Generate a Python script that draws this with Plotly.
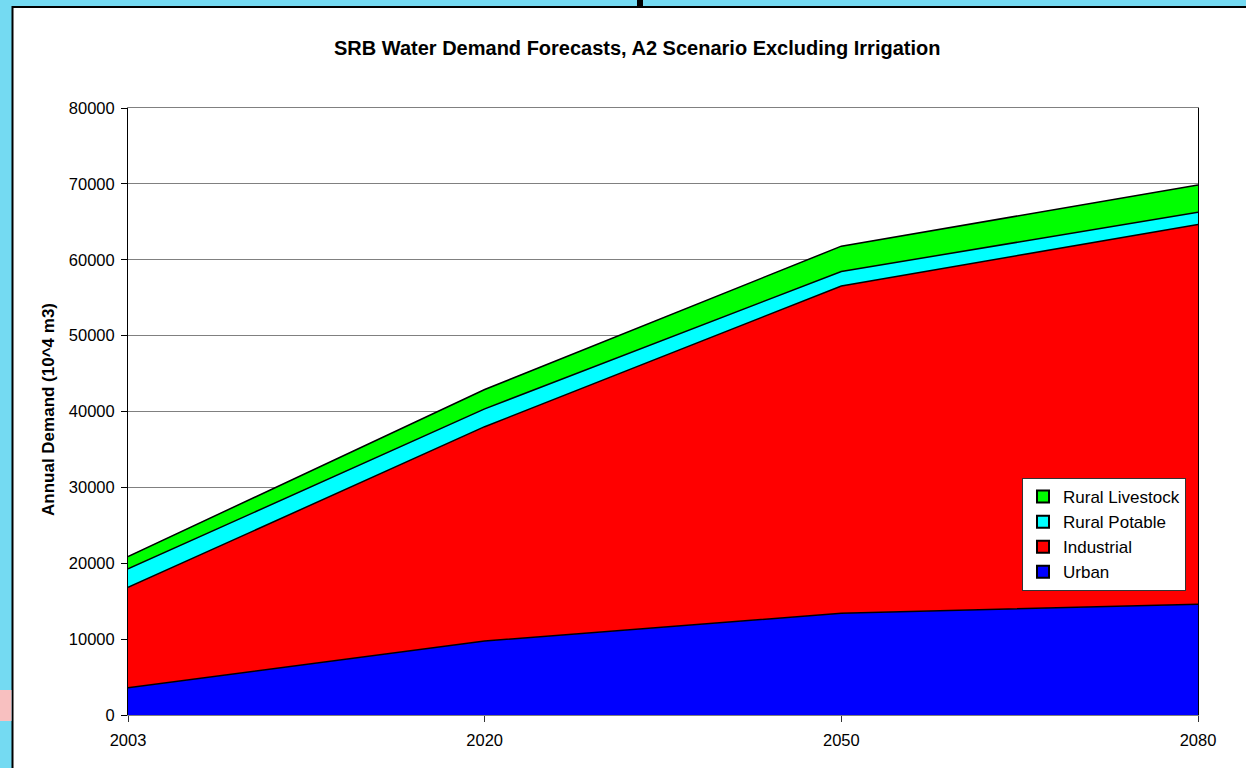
import plotly.graph_objects as go

years = ["2003", "2020", "2050", "2080"]
urban = [3600, 9750, 13400, 14600]
industrial = [13220, 28250, 43150, 50050]
rural_potable = [2430, 2350, 1900, 1620]
rural_livestock = [1630, 2550, 3340, 3580]

series = [
    ("Urban", urban, "#0000FF"),
    ("Industrial", industrial, "#FF0000"),
    ("Rural Potable", rural_potable, "#00FFFF"),
    ("Rural Livestock", rural_livestock, "#00FF00"),
]

W, H = 1246, 768
L, R, T, B = 128, 1198, 108, 715


def px(x):
    return (x - L) / (R - L)


def py(y):
    return (B - y) / (B - T)


fig = go.Figure()
for name, vals, col in series:
    fig.add_trace(go.Scatter(
        x=years, y=vals, name=name, stackgroup="one", mode="lines",
        line=dict(color="black", width=1.5), fillcolor=col,
        showlegend=False, hoverinfo="skip"))

for i, (name, vals, col) in enumerate(reversed(series)):
    fig.add_trace(go.Scatter(
        x=[None], y=[None], name=name, mode="markers",
        marker=dict(symbol="square", size=12, color=col,
                    line=dict(color="black", width=1)),
        legendgroup="g%d" % i, showlegend=True))

font = "Arial, Liberation Sans, sans-serif"

shapes = [
    dict(type="rect", xref="paper", yref="paper", layer="below",
         x0=px(12.5), x1=px(1260), y0=py(7), y1=py(790),
         fillcolor="white", line=dict(color="black", width=2)),
    dict(type="rect", xref="paper", yref="paper", layer="below",
         x0=px(637), x1=px(643), y0=py(-2), y1=py(7),
         fillcolor="black", line=dict(width=0)),
    dict(type="rect", xref="paper", yref="paper", layer="below",
         x0=px(-2), x1=px(11.5), y0=py(690), y1=py(721),
         fillcolor="#F8C0C0", line=dict(width=0)),
]

fig.update_layout(
    width=W, height=H,
    margin=dict(l=L, r=W - R, t=T, b=H - B),
    paper_bgcolor="#74DAF2", plot_bgcolor="white",
    font=dict(family=font, size=16, color="black"),
    shapes=shapes,
    showlegend=True,
    legend=dict(x=px(1186), y=py(478), xanchor="right", yanchor="top",
                bgcolor="white", bordercolor="#333333", borderwidth=1,
                font=dict(size=17, family=font), traceorder="grouped",
                tracegroupgap=0, itemsizing="constant", itemwidth=30),
    annotations=[
        dict(text="<b>SRB Water Demand Forecasts, A2 Scenario Excluding Irrigation</b>",
             xref="paper", yref="paper", x=px(636.5), y=py(48),
             showarrow=False, font=dict(size=20, family=font),
             xanchor="center", yanchor="middle"),
        dict(text="<b>Annual Demand (10^4 m3)</b>",
             xref="paper", yref="paper", x=px(48), y=py(410),
             showarrow=False, textangle=-90, font=dict(size=17, family=font),
             xanchor="center", yanchor="middle"),
    ],
)

fig.update_xaxes(type="category", range=[0, 3], showgrid=False,
                 showline=True, linecolor="#808080", linewidth=1, mirror=True,
                 ticks="outside", ticklen=6, tickcolor="#333333",
                 tickfont=dict(size=16.5), ticklabelstandoff=4, zeroline=False)
fig.update_yaxes(range=[0, 80000], dtick=10000, tickformat="d",
                 showgrid=True, gridcolor="#808080", gridwidth=1,
                 showline=True, linecolor="black", linewidth=1, mirror=True,
                 ticks="outside", ticklen=6, tickcolor="black",
                 tickfont=dict(size=16.5), ticklabelstandoff=3, zeroline=False)

fig.write_html("out.html", config={"displayModeBar": False},
               post_script="document.body.style.margin='0';document.body.style.overflow='hidden';")
